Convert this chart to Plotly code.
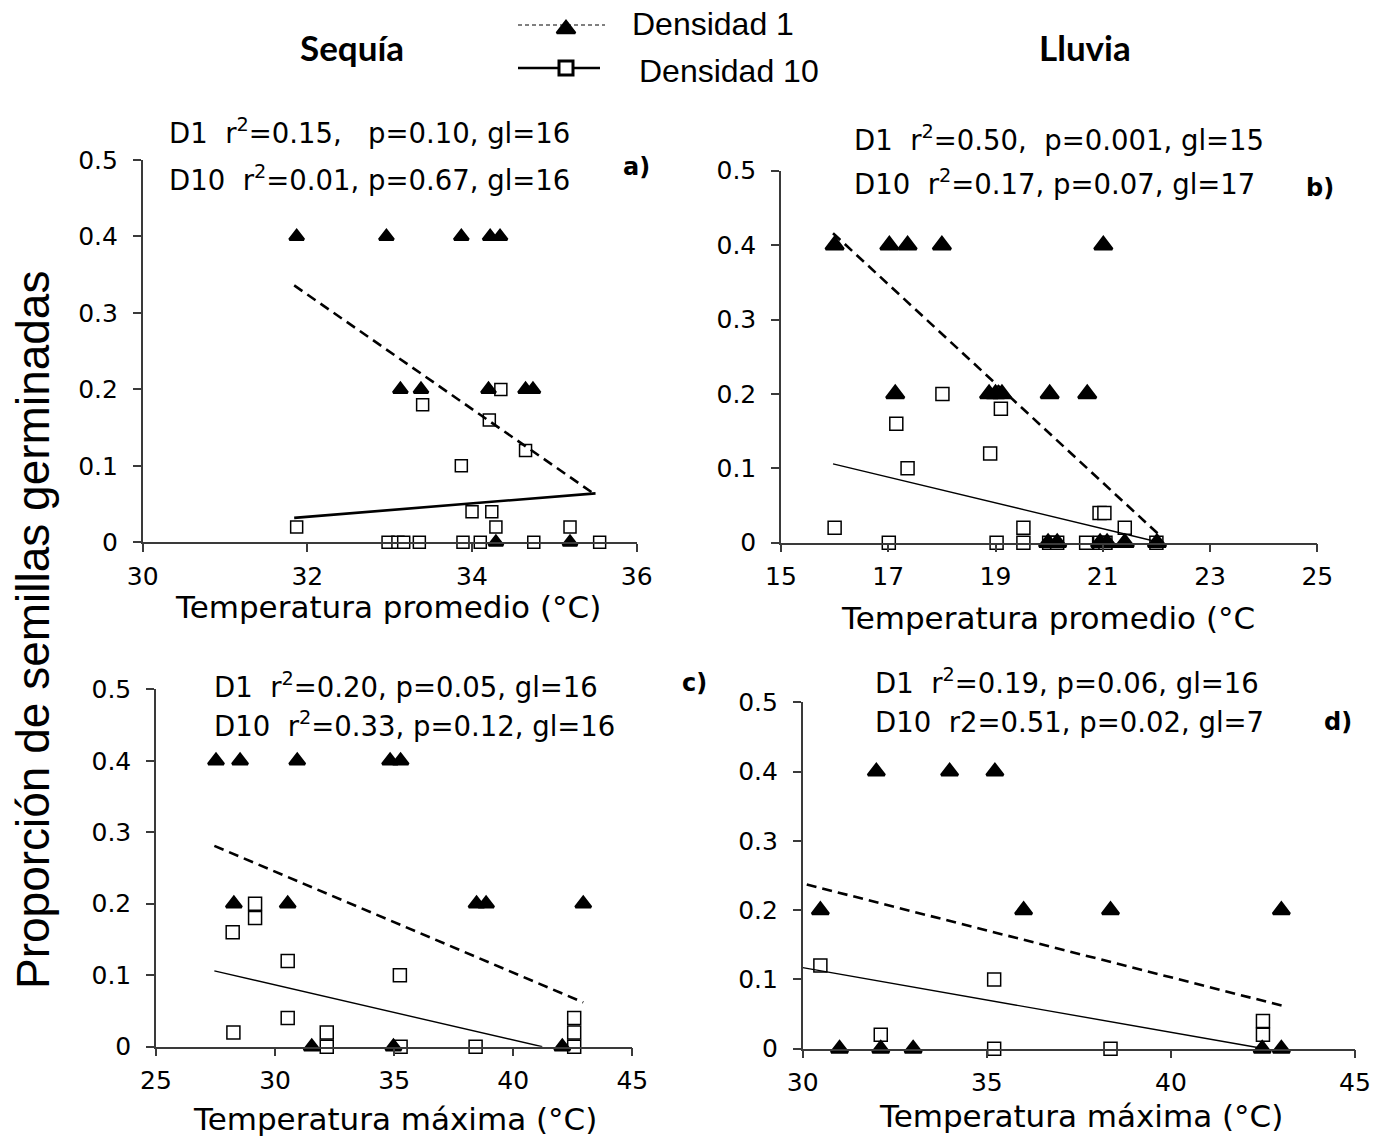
import plotly.graph_objects as go

# ---------------- data ----------------
# a) Sequía, temperatura promedio
a_d1_x = [31.87, 32.96, 33.87, 34.22, 34.34, 33.13, 33.38, 34.20, 34.65, 34.74, 34.29, 35.19]
a_d1_y = [0.4, 0.4, 0.4, 0.4, 0.4, 0.2, 0.2, 0.2, 0.2, 0.2, 0.0, 0.0]
a_d10_x = [34.35, 33.40, 34.21, 34.65, 33.87, 34.00, 34.24, 31.87, 34.29, 35.19,
           32.98, 33.10, 33.17, 33.36, 33.89, 34.10, 34.75, 35.55]
a_d10_y = [0.20, 0.18, 0.16, 0.12, 0.10, 0.04, 0.04, 0.02, 0.02, 0.02,
           0, 0, 0, 0, 0, 0, 0, 0]
a_fit_x = [31.84, 35.50]
a_fit_d1 = [0.336, 0.062]
a_fit_d10 = [0.032, 0.064]

# b) Lluvia, temperatura promedio
b_d1_x = [16.00, 17.02, 17.36, 18.00, 21.01, 17.13, 18.88, 19.00, 19.12, 20.01, 20.71,
          19.98, 20.15, 20.95, 21.08, 21.41, 22.01]
b_d1_y = [0.4, 0.4, 0.4, 0.4, 0.4, 0.2, 0.2, 0.2, 0.2, 0.2, 0.2, 0, 0, 0, 0, 0, 0]
b_d10_x = [18.01, 17.15, 19.10, 18.90, 17.36, 16.00, 20.94, 21.03, 19.52, 21.41,
           17.01, 19.02, 19.52, 20.00, 20.15, 20.69, 20.95, 21.05, 22.00]
b_d10_y = [0.20, 0.16, 0.18, 0.12, 0.10, 0.02, 0.04, 0.04, 0.02, 0.02,
           0, 0, 0, 0, 0, 0, 0, 0, 0]
b_fit_x = [15.97, 22.03]
b_fit_d1 = [0.416, 0.012]
b_fit_d10 = [0.106, 0.001]

# c) Sequía, temperatura máxima
c_d1_x = [27.52, 28.53, 30.93, 34.83, 35.27, 28.27, 30.53, 38.46, 38.86, 42.94, 31.54, 34.97, 42.06]
c_d1_y = [0.4, 0.4, 0.4, 0.4, 0.4, 0.2, 0.2, 0.2, 0.2, 0.2, 0, 0, 0]
c_d10_x = [29.16, 29.16, 28.22, 30.53, 35.24, 30.53, 28.25, 32.17, 42.56, 42.56, 32.17, 35.27, 38.42, 42.56]
c_d10_y = [0.20, 0.18, 0.16, 0.12, 0.10, 0.04, 0.02, 0.02, 0.04, 0.02, 0, 0, 0, 0]
c_fit_d1_x = [27.45, 42.94]
c_fit_d1 = [0.281, 0.062]
c_fit_d10_x = [27.45, 41.22]
c_fit_d10 = [0.106, 0.0]

# d) Lluvia, temperatura máxima
d_d1_x = [32.00, 33.99, 35.22, 30.48, 36.00, 38.36, 43.00, 31.00, 32.12, 33.00, 42.48, 43.00]
d_d1_y = [0.4, 0.4, 0.4, 0.2, 0.2, 0.2, 0.2, 0, 0, 0, 0, 0]
d_d10_x = [30.48, 35.20, 32.12, 35.20, 38.36, 42.50, 42.50]
d_d10_y = [0.12, 0.10, 0.02, 0.0, 0.0, 0.04, 0.02]
d_fit_d1_x = [30.11, 43.03]
d_fit_d1 = [0.237, 0.062]
d_fit_d10_x = [30.00, 42.43]
d_fit_d10 = [0.117, 0.001]

y_ticks = [0, 0.1, 0.2, 0.3, 0.4, 0.5]
y_ticktext = ["0", "0.1", "0.2", "0.3", "0.4", "0.5"]
a_xticks = [30, 32, 34, 36]
b_xticks = [15, 17, 19, 21, 23, 25]
c_xticks = [25, 30, 35, 40, 45]
d_xticks = [30, 35, 40, 45]

stats_a = ["D1  r<sup>2</sup>=0.15,   p=0.10, gl=16", "D10  r<sup>2</sup>=0.01, p=0.67, gl=16"]
stats_b = ["D1  r<sup>2</sup>=0.50,  p=0.001, gl=15", "D10  r<sup>2</sup>=0.17, p=0.07, gl=17"]
stats_c = ["D1  r<sup>2</sup>=0.20, p=0.05, gl=16", "D10  r<sup>2</sup>=0.33, p=0.12, gl=16"]
stats_d = ["D1  r<sup>2</sup>=0.19, p=0.06, gl=16", "D10  r2=0.51, p=0.02, gl=7"]

# ---------------- layout helpers ----------------
W, H = 1388, 1141
def fx(x): return x / W
def fy(y): return 1 - y / H

VERD = "DejaVu Sans"
AX = "#3a3a3a"

fig = go.Figure()

panels = [
    dict(n="", xdom=(142.7, 636.7), ydom=(542.3, 160.0), xr=[30, 36], xt=a_xticks,
         d1=(a_d1_x, a_d1_y), d10=(a_d10_x, a_d10_y),
         f1=(a_fit_x, a_fit_d1), f10=(a_fit_x, a_fit_d10), w10=2.6, tri=12.5, sq=12),
    dict(n="2", xdom=(781.0, 1317.3), ydom=(542.7, 170.7), xr=[15, 25], xt=b_xticks,
         d1=(b_d1_x, b_d1_y), d10=(b_d10_x, b_d10_y),
         f1=(b_fit_x, b_fit_d1), f10=(b_fit_x, b_fit_d10), w10=1.4, tri=15.5, sq=13),
    dict(n="3", xdom=(156.0, 632.3), ydom=(1046.7, 689.3), xr=[25, 45], xt=c_xticks,
         d1=(c_d1_x, c_d1_y), d10=(c_d10_x, c_d10_y),
         f1=(c_fit_d1_x, c_fit_d1), f10=(c_fit_d10_x, c_fit_d10), w10=1.4, tri=13.5, sq=13),
    dict(n="4", xdom=(802.7, 1355.0), ydom=(1048.7, 702.3), xr=[30, 45], xt=d_xticks,
         d1=(d_d1_x, d_d1_y), d10=(d_d10_x, d_d10_y),
         f1=(d_fit_d1_x, d_fit_d1), f10=(d_fit_d10_x, d_fit_d10), w10=1.4, tri=14.5, sq=13),
]

for p in panels:
    xa, ya = "x" + p["n"], "y" + p["n"]
    # open squares (Densidad 10)
    fig.add_trace(go.Scatter(x=p["d10"][0], y=p["d10"][1], xaxis=xa, yaxis=ya, mode="markers",
                             marker=dict(symbol="square", size=p["sq"], color="white",
                                         line=dict(color="black", width=1.5)),
                             cliponaxis=False, showlegend=False))
    # filled triangles (Densidad 1)
    fig.add_trace(go.Scatter(x=p["d1"][0], y=p["d1"][1], xaxis=xa, yaxis=ya, mode="markers",
                             marker=dict(symbol="triangle-up", size=p["tri"], color="black",
                                         line=dict(color="black", width=2.8)),
                             cliponaxis=False, showlegend=False))
    # trend lines
    fig.add_trace(go.Scatter(x=p["f1"][0], y=p["f1"][1], xaxis=xa, yaxis=ya, mode="lines",
                             line=dict(color="black", width=2.6, dash="10px,6px"),
                             cliponaxis=False, showlegend=False))
    fig.add_trace(go.Scatter(x=p["f10"][0], y=p["f10"][1], xaxis=xa, yaxis=ya, mode="lines",
                             line=dict(color="black", width=p["w10"]),
                             cliponaxis=False, showlegend=False))

    common = dict(showline=True, linecolor=AX, linewidth=1.5, ticks="outside", ticklen=8,
                  tickwidth=1.5, tickcolor=AX, showgrid=False, zeroline=False,
                  automargin=False,
                  tickfont=dict(family=VERD, size=25, color="black"), fixedrange=True)
    fig.layout["xaxis" + p["n"]] = dict(common, domain=[fx(p["xdom"][0]), fx(p["xdom"][1])],
                                        range=p["xr"], tickvals=p["xt"],
                                        ticktext=[str(v) for v in p["xt"]],
                                        anchor=ya, ticklabelstandoff=3)
    fig.layout["yaxis" + p["n"]] = dict(common, domain=[fy(p["ydom"][0]), fy(p["ydom"][1])],
                                        range=[0, 0.5], tickvals=y_ticks, ticktext=y_ticktext,
                                        anchor=xa, ticklabelstandoff=10)

# ---------------- legend key (own hidden axes, pixel-like ranges) ----------------
fig.layout["xaxis5"] = dict(domain=[fx(505), fx(620)], range=[505, 620], visible=False,
                            fixedrange=True, automargin=False)
fig.layout["yaxis5"] = dict(domain=[fy(100), fy(0)], range=[100, 0], visible=False, fixedrange=True,
                            anchor="x5", automargin=False)
fig.add_trace(go.Scatter(x=[518, 605], y=[25, 25], xaxis="x5", yaxis="y5", mode="lines",
                         line=dict(color="black", width=1, dash="4px,3px"), showlegend=False))
fig.add_trace(go.Scatter(x=[566], y=[29], xaxis="x5", yaxis="y5", mode="markers",
                         marker=dict(symbol="triangle-up", size=16, color="black",
                                     line=dict(color="black", width=2.5)), showlegend=False))
fig.add_trace(go.Scatter(x=[518, 600], y=[68, 68], xaxis="x5", yaxis="y5", mode="lines",
                         line=dict(color="black", width=2.5), showlegend=False))
fig.add_trace(go.Scatter(x=[566], y=[68], xaxis="x5", yaxis="y5", mode="markers",
                         marker=dict(symbol="square", size=14, color="white",
                                     line=dict(color="black", width=3)), showlegend=False))

ann = []
def A(text, x, y, size=27.5, family=VERD, xanchor="left", bold=False, textangle=0, color="black"):
    ann.append(dict(text=("<b>%s</b>" % text) if bold else text, x=fx(x), y=fy(y),
                    xref="paper", yref="paper", xanchor=xanchor, yanchor="middle",
                    showarrow=False, textangle=textangle,
                    font=dict(family=family, size=size, color=color)))

def S(t):
    return t.replace("   ", "\u00a0\u00a0\u00a0").replace("  ", "\u00a0\u00a0")

# legend texts
A("Densidad 1", 630, 24, size=32, family="Liberation Sans")
A("Densidad 10", 637, 71, size=32, family="Liberation Sans")
# column titles
A("Sequía", 352, 47, size=35, family="Lato", xanchor="center", bold=True)
A("Lluvia", 1085, 47, size=35, family="Lato", xanchor="center", bold=True)
# shared y-axis title
A("Proporción de semillas germinadas", 33, 630, size=46, family="Liberation Sans",
  xanchor="center", textangle=-90)
# stats
A(S(stats_a[0]), 167, 131)
A(S(stats_a[1]), 167, 178)
A(S(stats_b[0]), 852, 138)
A(S(stats_b[1]), 852, 182)
A(S(stats_c[0]), 212, 685)
A(S(stats_c[1]), 212, 724)
A(S(stats_d[0]), 873, 681)
A(S(stats_d[1]), 873, 722)
# panel letters
A("a)", 636, 167, size=24, xanchor="center", bold=True)
A("b)", 1320, 188, size=24, xanchor="center", bold=True)
A("c)", 695, 683, size=24, xanchor="center", bold=True)
A("d)", 1338, 722, size=24, xanchor="center", bold=True)
# x-axis titles
A("Temperatura promedio (°C)", 388, 607, size=31, xanchor="center")
A("Temperatura promedio (°C", 1048, 618, size=31, xanchor="center")
A("Temperatura máxima (°C)", 395, 1119, size=31, xanchor="center")
A("Temperatura máxima (°C)", 1081, 1116, size=31, xanchor="center")

fig.update_layout(width=W, height=H, margin=dict(l=0, r=0, t=0, b=0, autoexpand=False),
                  template="none",
                  paper_bgcolor="white", plot_bgcolor="white", showlegend=False,
                  annotations=ann)

fig.write_html("out.html", config={"displayModeBar": False},
               post_script="document.body.style.margin='0px';")
